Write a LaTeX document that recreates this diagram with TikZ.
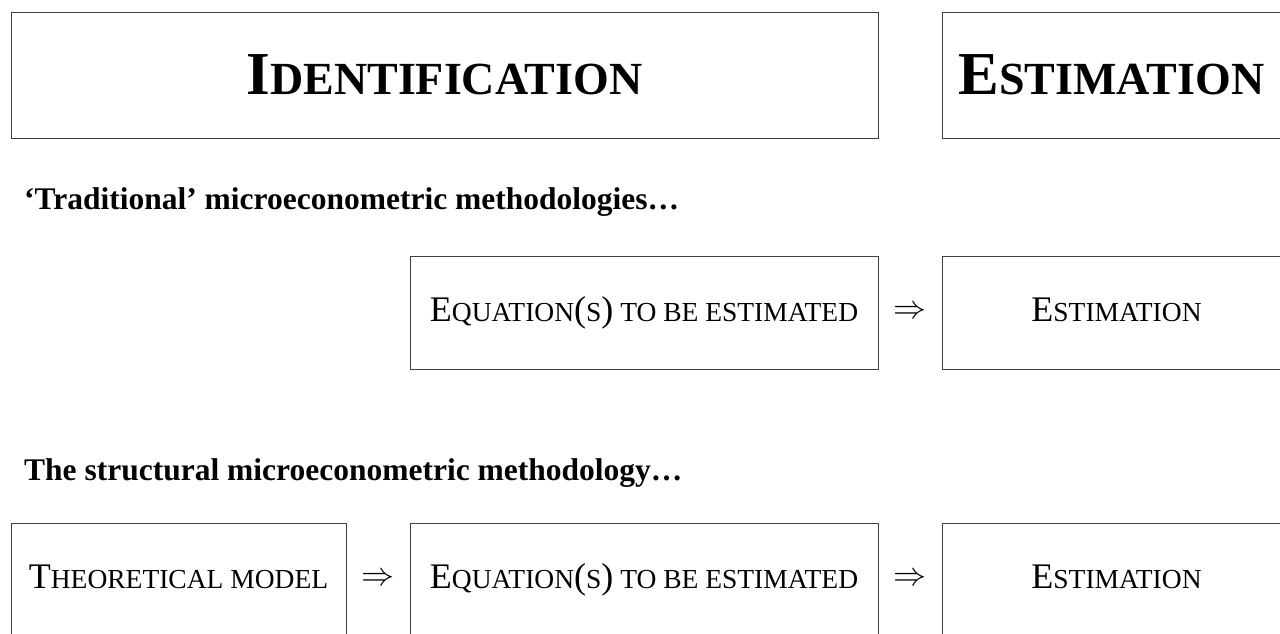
\RequirePackage{fix-cm}
\documentclass[tikz,border=0pt]{standalone}
\usepackage{fontspec}
\setmainfont{Liberation Serif}
\usetikzlibrary{calc}
\newcommand\scbig{\fontsize{36}{40}\selectfont}
\newcommand\scsmall{\fontsize{27.5}{30}\selectfont}
\newcommand\fakesc[2]{{\scbig #1}{\scsmall #2}}
\newcommand\bigsc[2]{{\bfseries\fontsize{61}{66}\selectfont #1\fontsize{46}{50}\selectfont #2}}
\newcommand\eqtext{{\scbig E\scsmall QUATION\scbig(\scsmall S\scbig)\scsmall{} TO BE ESTIMATED}}
\begin{document}
\begin{tikzpicture}[x=1pt,y=-1pt,
  box/.style={draw=black!75, line width=0.8pt, inner sep=0pt, minimum height=113pt, text height=17pt, text depth=0pt},
  topbox/.style={box, minimum height=126pt, text height=38pt},
  heading/.style={anchor=base west, inner sep=0pt, font=\bfseries\fontsize{31.5}{36}\selectfont},
  imp/.style={inner sep=0pt, font=\fontsize{33}{36}\selectfont}]
\useasboundingbox (0,0) rectangle (1280,634);
\clip (0,0) rectangle (1280,634);
% top row
\node[topbox, minimum width=867pt] (ident) at (444.5,75) {\bigsc{I}{DENTIFICATION}};
\node[topbox, minimum width=339pt] (esttop) at (1111.5,75) {\bigsc{E}{STIMATION}};
% traditional
\node[heading] (h1) at (24,209) {‘Traditional’ microeconometric methodologies\ldots};
\node[box, minimum width=468pt] (eq1) at (644,312.5) {\eqtext};
\node[box, minimum width=349pt] (est1) at (1116.5,312.5) {\fakesc{E}{STIMATION}};
\node[imp] (a1) at ($(eq1.east)!0.5!(est1.west)$) {$\Rightarrow$};
% structural
\node[heading] (h2) at (24,480) {The structural microeconometric methodology\ldots};
\node[box, minimum width=335pt] (th) at (178.5,579.5) {\fakesc{T}{HEORETICAL MODEL}};
\node[box, minimum width=468pt] (eq2) at (644,579.5) {\eqtext};
\node[box, minimum width=349pt] (est2) at (1116.5,579.5) {\fakesc{E}{STIMATION}};
\node[imp] (a2) at ($(th.east)!0.5!(eq2.west)$) {$\Rightarrow$};
\node[imp] (a3) at ($(eq2.east)!0.5!(est2.west)$) {$\Rightarrow$};
\end{tikzpicture}
\end{document}
